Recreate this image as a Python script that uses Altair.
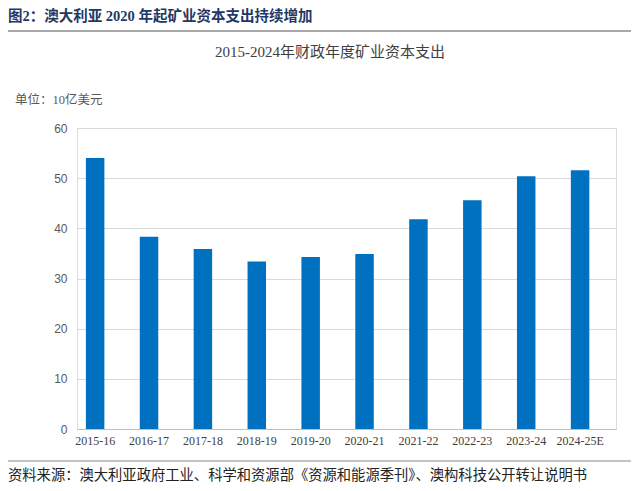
import altair as alt
import pandas as pd

categories = ["2015-16", "2016-17", "2017-18", "2018-19", "2019-20",
              "2020-21", "2021-22", "2022-23", "2023-24", "2024-25E"]
values = [54.0, 38.3, 35.9, 33.4, 34.3, 34.9, 41.8, 45.6, 50.4, 51.6]
y_ticks = [0, 10, 20, 30, 40, 50, 60]

header = "图2：澳大利亚 2020 年起矿业资本支出持续增加"
subtitle = "2015-2024年财政年度矿业资本支出"
unit = "单位：10亿美元"
source = "资料来源：澳大利亚政府工业、科学和资源部《资源和能源季刊》、澳构科技公开转让说明书"

df = pd.DataFrame({"cat": categories, "val": values})

W, H = 539, 301
serif = "Liberation Serif, Noto Sans CJK SC"

bars = alt.Chart(df).mark_bar(color="#0070C0").encode(
    x=alt.X("cat:N", sort=categories, title=None,
            scale=alt.Scale(paddingInner=0.657, paddingOuter=0.33, align=0.25),
            axis=alt.Axis(labelAngle=0, labelFont="Liberation Serif", labelFontSize=12,
                          labelColor="#404040", ticks=False, domainColor="#BFBFBF",
                          labelPadding=6)),
    y=alt.Y("val:Q", title=None,
            scale=alt.Scale(domain=[0, 60], nice=False),
            axis=alt.Axis(values=y_ticks, labelFont="Liberation Sans", labelFontSize=12,
                          labelColor="#595959", domain=False, ticks=False,
                          gridColor="#D9D9D9", labelPadding=10)),
)

def txt(s, x, y, size, color, weight="normal", align="left", font=serif):
    return alt.Chart(pd.DataFrame({"t": [s]})).mark_text(
        align=align, baseline="middle", fontSize=size, color=color,
        fontWeight=weight, font=font
    ).encode(text="t:N", x=alt.value(x), y=alt.value(y))

t1 = txt(header, -69, -111, 14.5, "#1F3864", weight="bold")
t2 = txt(subtitle, 253, -76, 15, "#404040", align="center")
t3 = txt(unit, -62, -28, 12.5, "#595959")
t4 = txt(source, -69, 348, 14.3, "#222222")

line_top = alt.Chart(pd.DataFrame({"a": [0]})).mark_rule(color="#555555", strokeWidth=1.2).encode(
    x=alt.value(-69), x2=alt.value(555), y=alt.value(-97))
line_bot = alt.Chart(pd.DataFrame({"a": [0]})).mark_rule(color="#888888", strokeWidth=1.2).encode(
    x=alt.value(-69), x2=alt.value(555), y=alt.value(333))

chart = alt.layer(bars, t1, t2, t3, t4, line_top, line_bot).properties(
    width=W, height=H,
    autosize=alt.AutoSizeParams(type="none"),
    padding={"left": 69, "top": 120, "right": 15, "bottom": 56},
).configure_view(stroke=None).configure(background="white")

chart.save("out.html", embed_options={"renderer": "svg", "actions": False})
